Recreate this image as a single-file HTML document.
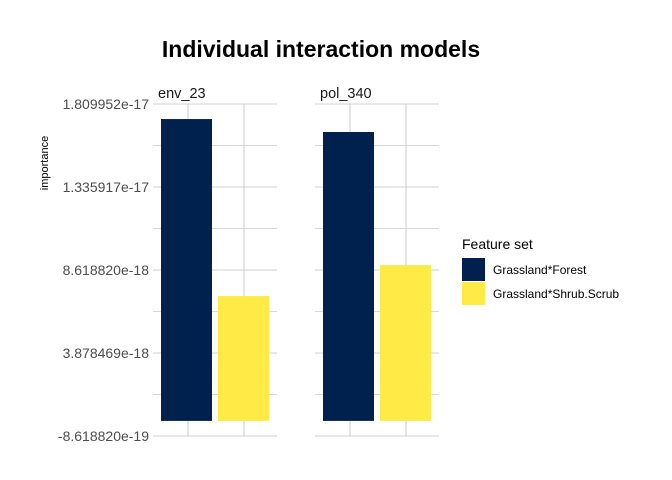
<!DOCTYPE html>
<html><head><meta charset="utf-8"><style>
body{margin:0;background:#fff;}
svg{display:block;font-family:"Liberation Sans",Arial,sans-serif;}
</style></head><body>
<svg id="chart" width="672" height="480">
<text x="321" y="57" text-anchor="middle" font-size="23" font-weight="bold" fill="#000">Individual interaction models</text>
<text transform="translate(48,163) rotate(-90)" text-anchor="middle" font-size="11" fill="#000">importance</text>
<g id="plot"></g>
<g>
<text x="462" y="249" font-size="14" fill="#000">Feature set</text>
<rect x="462" y="258" width="23" height="23" fill="#00204d"/>
<text x="493" y="274" font-size="12" fill="#000">Grassland*Forest</text>
<rect x="462" y="282" width="23" height="23" fill="#ffea46"/>
<text x="493" y="298" font-size="12" fill="#000">Grassland*Shrub.Scrub</text>
</g>
</svg>
<script>
const panels = ["env_23","pol_340"];
const seriesForest = [1.724e-17, 1.650e-17];
const seriesShrub = [7.13e-18, 8.90e-18];
const tickValues = [-8.618820e-19, 3.878469e-18, 8.618820e-18, 1.335917e-17, 1.809952e-17];
const tickLabels = ["-8.618820e-19","3.878469e-18","8.618820e-18","1.335917e-17","1.809952e-17"];
const colors = ["#00204d","#ffea46"];
const NS="http://www.w3.org/2000/svg";
const g=document.getElementById('plot');
const yTop=104,yBot=436;
function y(v){return yBot-(v-tickValues[0])/(tickValues[4]-tickValues[0])*(yBot-yTop);}
const panelX=[153,315], panelW=124;
function mk(t,a){const e=document.createElementNS(NS,t);for(const k in a)e.setAttribute(k,a[k]);g.appendChild(e);return e;}
tickValues.forEach((v,i)=>{
 const t=mk('text',{x:149,y:y(v)+5,'text-anchor':'end','font-size':14,fill:'#4d4d4d'});
 t.textContent=tickLabels[i];
 
 
});
panels.forEach((p,pi)=>{
 const x0=panelX[pi];
 for(let i=0;i<tickValues.length;i++){
  const ln=mk('line',{x1:x0,x2:x0+panelW,y1:y(tickValues[i]),y2:y(tickValues[i]),stroke:'#d0d0d0','stroke-width':1.1});
  
  
  if(i<tickValues.length-1){
   const ym=y((tickValues[i]+tickValues[i+1])/2);
   const lm=mk('line',{x1:x0,x2:x0+panelW,y1:ym,y2:ym,stroke:'#d8d8d8','stroke-width':1});
   
   
  }
 }
 [35,91].forEach(dx=>{
  const v=mk('line',{x1:x0+dx,x2:x0+dx,y1:yTop,y2:yBot,stroke:'#d0d0d0','stroke-width':1.1});
  
  
 });
 const lab=mk('text',{x:x0+5,y:98,'font-size':14.5,fill:'#1a1a1a'});
 lab.textContent=p;
 
 
 [seriesForest,seriesShrub].forEach((s,si)=>{
  const top=y(s[pi]), base=y(0);
  const r=mk('rect',{x:x0+8+si*57,y:top,width:51,height:base-top,fill:colors[si]});
  
  
 });
});
</script>
</body></html>
